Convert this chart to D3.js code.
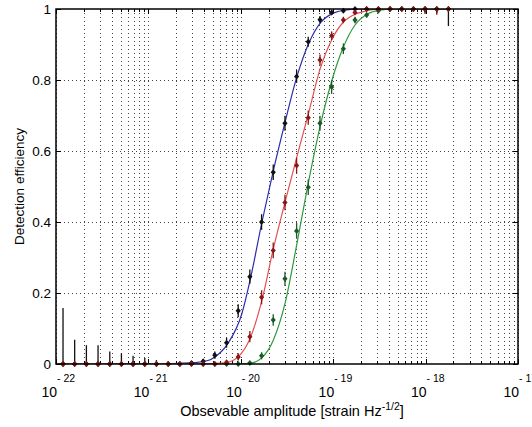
<!DOCTYPE html>
<html>
<head>
<meta charset="utf-8">
<script src="https://cdn.jsdelivr.net/npm/d3@7/dist/d3.min.js"></script>
<style>
  body { margin: 0; background: #fff; }
  text { font-family: "Liberation Sans", Arial, Helvetica, sans-serif; fill: #000; }
</style>
</head>
<body>
<script>
// injection amplitudes, log10 of strain Hz^-1/2
var ampExp = [-21.924, -21.798, -21.671, -21.545, -21.418, -21.292, -21.166, -21.039,
              -20.913, -20.786, -20.660, -20.534, -20.407, -20.281, -20.154, -20.028,
              -19.902, -19.775, -19.649, -19.522, -19.396, -19.270, -19.143, -19.017,
              -18.890, -18.764, -18.638, -18.511, -18.385, -18.258, -18.132, -18.006,
              -17.879, -17.753];

var blueEff = [0, 0, 0, 0, 0, 0, 0, 0, 0, 0, 0, 0.003, 0.008, 0.025, 0.06, 0.15, 0.246,
               0.40, 0.54, 0.678, 0.81, 0.908, 0.97, 0.99, 0.995, 1, 1, 1, 1, 1, 1, 1, 1, 1];
var blueErr = [0.158, 0.068, 0.053, 0.053, 0.035, 0.03, 0.023, 0.017, 0.011, 0.006, 0.004,
               0.004, 0.006, 0.01, 0.014, 0.018, 0.02, 0.022, 0.022, 0.021, 0.018, 0.014,
               0.01, 0.007, 0.005, 0.004, 0.004, 0.004, 0.004, 0.005, 0.008, 0.01, 0.012, 0.048];

var redEff = [0, 0, 0, 0, 0, 0, 0, 0, 0, 0, 0, 0, 0, 0, 0.005, 0.02, 0.077, 0.188, 0.32,
              0.455, 0.559, 0.694, 0.856, 0.925, 0.969, 0.99, 1, 1, 1, 1, 1, 1, 1, 1];
var redErr = [0, 0, 0, 0, 0, 0, 0, 0, 0, 0, 0, 0, 0, 0, 0.005, 0.01, 0.016, 0.02, 0.022,
              0.022, 0.022, 0.02, 0.016, 0.012, 0.009, 0.005, 0, 0, 0, 0, 0, 0.014, 0.016, 0];

var greenEff = [0, 0, 0, 0, 0, 0, 0, 0, 0, 0, 0, 0, 0, 0, 0, 0, 0.003, 0.023, 0.124, 0.24,
                0.375, 0.498, 0.678, 0.78, 0.888, 0.969, 0.983, 0.995, 1, 1, 1, 1, 1, 1];
var greenErr = [0, 0, 0, 0, 0, 0, 0, 0, 0, 0, 0, 0, 0, 0, 0, 0, 0.005, 0.01, 0.016, 0.02,
                0.022, 0.022, 0.021, 0.019, 0.015, 0.009, 0.007, 0.004, 0, 0, 0, 0, 0, 0];

// fitted efficiency curves
var blueFitExp = [-22, -20.983, -20.496, -20.355, -20.279, -20.139, -19.987, -19.900, -19.771,
                  -19.652, -19.522, -19.392, -19.262, -19.132, -19.002, -18.872, -18.710, -17.753];
var blueFitEff = [0, 0, 0.004, 0.01, 0.02, 0.058, 0.143, 0.235, 0.40,
                  0.54, 0.68, 0.81, 0.905, 0.963, 0.988, 0.997, 1, 1];

var redFitExp = [-22, -20.442, -20.171, -20.030, -19.900, -19.771, -19.652, -19.522, -19.392,
                 -19.273, -19.143, -19.013, -18.894, -18.764, -18.634, -18.494, -17.753];
var redFitEff = [0, 0, 0.003, 0.02, 0.072, 0.18, 0.32, 0.455, 0.585,
                 0.70, 0.83, 0.915, 0.962, 0.985, 0.995, 1, 1];

var greenFitExp = [-22, -20.117, -19.900, -19.771, -19.652, -19.522, -19.392, -19.273, -19.143,
                   -19.013, -18.894, -18.764, -18.634, -18.494, -18.331, -17.753];
var greenFitEff = [0, 0, 0.002, 0.018, 0.065, 0.17, 0.34, 0.505, 0.668,
                   0.80, 0.89, 0.955, 0.985, 0.997, 1, 1];

var yTicks = [0, 0.2, 0.4, 0.6, 0.8, 1];
var xDecades = [-22, -21, -20, -19, -18, -17];

var width = 532, height = 427,
    plotLeft = 56, plotRight = 518, plotTop = 9, plotBottom = 364;

var x = d3.scaleLog().domain([1e-22, 1e-17]).range([plotLeft, plotRight]);
var y = d3.scaleLinear().domain([0, 1]).range([plotBottom, plotTop]);

var svg = d3.select("body").append("svg")
  .attr("width", width)
  .attr("height", height);

svg.append("defs").append("clipPath")
  .attr("id", "plotclip")
  .append("rect")
  .attr("x", plotLeft).attr("y", plotTop)
  .attr("width", plotRight - plotLeft).attr("height", plotBottom - plotTop);

// dotted grid, every log minor tick
var grid = svg.append("g").attr("stroke", "#444").attr("stroke-width", 1)
  .attr("stroke-dasharray", "1,3");

grid.selectAll(".vgrid")
  .data(x.ticks())
  .enter().append("line")
  .attr("x1", function (d) { return Math.round(x(d)) + 0.5; })
  .attr("x2", function (d) { return Math.round(x(d)) + 0.5; })
  .attr("y1", plotTop)
  .attr("y2", plotBottom);

grid.selectAll(".hgrid")
  .data(yTicks.slice(1, -1))
  .enter().append("line")
  .attr("x1", plotLeft)
  .attr("x2", plotRight)
  .attr("y1", function (d) { return Math.round(y(d)) + 0.5; })
  .attr("y2", function (d) { return Math.round(y(d)) + 0.5; });

// tick marks inside the box
var ticks = svg.append("g").attr("stroke", "#000").attr("stroke-width", 1);
x.ticks().forEach(function (d) {
  var lg = Math.log10(d);
  var major = Math.abs(lg - Math.round(lg)) < 1e-9;
  var len = major ? 5 : 3;
  var px = Math.round(x(d)) + 0.5;
  ticks.append("line").attr("x1", px).attr("x2", px).attr("y1", plotBottom).attr("y2", plotBottom - len);
  ticks.append("line").attr("x1", px).attr("x2", px).attr("y1", plotTop).attr("y2", plotTop + len);
});
yTicks.forEach(function (d) {
  var py = Math.round(y(d)) + 0.5;
  ticks.append("line").attr("x1", plotLeft).attr("x2", plotLeft + 5).attr("y1", py).attr("y2", py);
  ticks.append("line").attr("x1", plotRight).attr("x2", plotRight - 5).attr("y1", py).attr("y2", py);
});

// y axis labels
svg.append("g")
  .attr("transform", "translate(" + plotLeft + ",0)")
  .call(d3.axisLeft(y).tickValues(yTicks).tickSize(0).tickPadding(5)
        .tickFormat(d3.format("~g")))
  .call(function (g) { g.select(".domain").remove(); })
  .selectAll("text")
  .attr("font-size", 13.5)
  .attr("font-family", "Liberation Sans, Arial, sans-serif");

// x axis labels 10^n
var xl = svg.append("g").selectAll(".xl")
  .data(xDecades)
  .enter().append("g");
xl.append("text")
  .attr("x", function (d) { return x(Math.pow(10, d)) + 1; })
  .attr("y", 397)
  .attr("text-anchor", "end")
  .attr("font-size", 14)
  .text("10");
xl.append("text")
  .attr("x", function (d) { return x(Math.pow(10, d)) + 1; })
  .attr("y", 382)
  .attr("font-size", 10.5)
  .text(function (d) { return "- " + Math.abs(d); });

// axis titles
var xt = svg.append("text")
  .attr("x", 292)
  .attr("y", 416)
  .attr("text-anchor", "middle")
  .attr("font-size", 14.5);
xt.append("tspan").text("Obsevable amplitude [strain Hz");
xt.append("tspan").attr("dy", -6).attr("font-size", 10.5).text("-1/2");
xt.append("tspan").attr("dy", 6).text("]");

svg.append("text")
  .attr("transform", "translate(24," + ((plotTop + plotBottom) / 2) + ") rotate(-90)")
  .attr("text-anchor", "middle")
  .attr("font-size", 13.5)
  .text("Detection efficiency");

// series
var series = [
  { fx: blueFitExp, fy: blueFitEff, eff: blueEff, err: blueErr, line: "#2b2bb0", mark: "#111111" },
  { fx: greenFitExp, fy: greenFitEff, eff: greenEff, err: greenErr, line: "#2e9a3c", mark: "#1a5a26" },
  { fx: redFitExp, fy: redFitEff, eff: redEff, err: redErr, line: "#e45050", mark: "#8e1515" }
];

var lineGen = d3.line()
  .x(function (d) { return x(Math.pow(10, d[0])); })
  .y(function (d) { return y(d[1]); })
  .curve(d3.curveMonotoneX);

var plot = svg.append("g").attr("clip-path", "url(#plotclip)");
var marks = svg.append("g");

series.forEach(function (s) {
  plot.append("path")
    .datum(d3.zip(s.fx, s.fy))
    .attr("fill", "none")
    .attr("stroke", s.line)
    .attr("stroke-width", 1.2)
    .attr("d", lineGen);

  var pts = d3.zip(ampExp, s.eff, s.err);

  plot.selectAll(null)
    .data(pts.filter(function (d) { return d[2] > 0; }))
    .enter().append("line")
    .attr("x1", function (d) { return x(Math.pow(10, d[0])); })
    .attr("x2", function (d) { return x(Math.pow(10, d[0])); })
    .attr("y1", function (d) { return y(d[1] - d[2]); })
    .attr("y2", function (d) { return y(d[1] + d[2]); })
    .attr("stroke", s.mark)
    .attr("stroke-width", 1.3);

  marks.selectAll(null)
    .data(pts)
    .enter().append("path")
    .attr("transform", function (d) {
      return "translate(" + x(Math.pow(10, d[0])) + "," + y(d[1]) + ")";
    })
    .attr("d", "M0,-3L2.6,0L0,3L-2.6,0Z")
    .attr("fill", s.mark);
});

// box
svg.append("rect")
  .attr("x", plotLeft).attr("y", plotTop)
  .attr("width", plotRight - plotLeft).attr("height", plotBottom - plotTop)
  .attr("fill", "none")
  .attr("stroke", "#000")
  .attr("stroke-width", 1.5);
</script>
</body>
</html>
